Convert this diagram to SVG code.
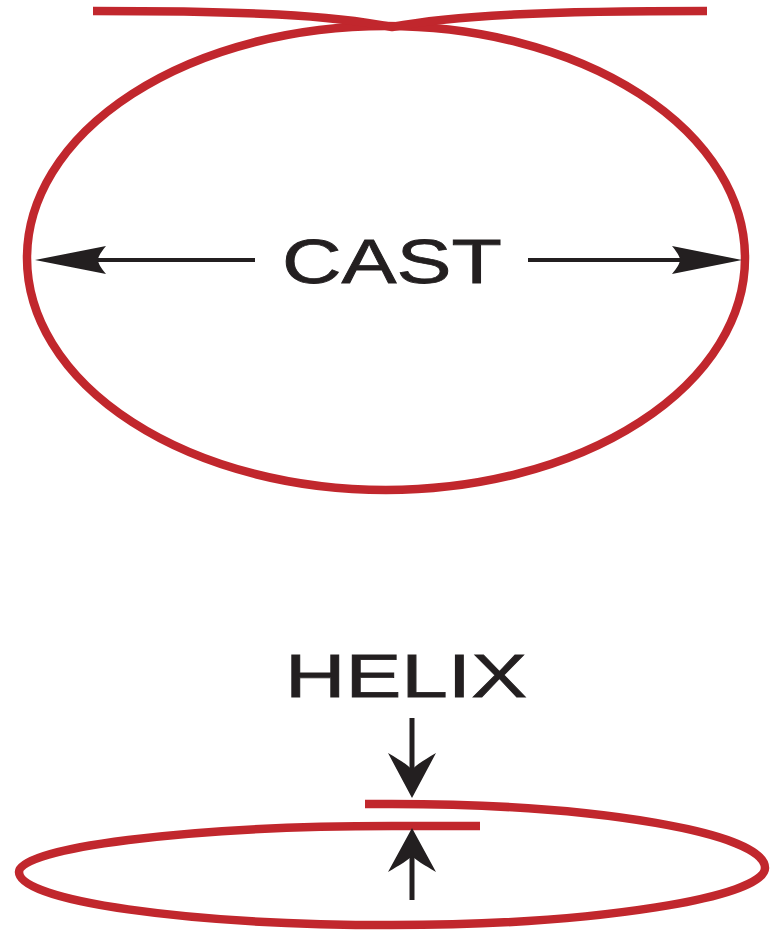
<svg xmlns="http://www.w3.org/2000/svg" width="775" height="933" viewBox="0 0 775 933">
<style>
.wire{fill:none;stroke:#c1272d;stroke-width:8.5;stroke-linecap:butt}
.shaft{stroke:#231f20;fill:none}
.head{fill:#231f20;stroke:none}
.lbl{font-family:"Liberation Sans",Arial,sans-serif;fill:#231f20}
</style>
<rect width="775" height="933" fill="#ffffff"/>
<g id="cast-loop">
<ellipse class="wire" cx="386" cy="258" rx="359" ry="232"/>
<path class="wire" d="M93,11 C250,11 330,15 392,27 C454,15 550,11 707,11"/>
</g>
<g id="helix-loop">
<path class="wire" d="M480,826 L392,826 C186,826 19,848 19,872 C19,901 186,925 392,925 C598,925 765,897 765,868 C765,833 598,804 392,804 L365,804"/>
</g>
<g id="cast-label">
<text class="lbl" x="282" y="283" font-size="63" stroke="#231f20" stroke-width="0.8" textLength="220" lengthAdjust="spacingAndGlyphs">CAST</text>
</g>
<g id="helix-label">
<text class="lbl" x="285" y="697" font-size="61" stroke="#231f20" stroke-width="0.8" textLength="242" lengthAdjust="spacingAndGlyphs">HELIX</text>
</g>
<g id="connectors">
<line class="shaft" x1="98" y1="260" x2="255" y2="260" stroke-width="4"/>
<path class="head" d="M35,260 L106,246 C101,252 98,257 98,260 C98,263 101,268 106,274 Z"/>
<line class="shaft" x1="528" y1="260" x2="682" y2="260" stroke-width="4"/>
<path class="head" d="M742,260 L672,246 C677,252 680,257 680,260 C680,263 677,268 672,274 Z"/>
<line class="shaft" x1="412" y1="718" x2="412" y2="770" stroke-width="5"/>
<path class="head" d="M412,798 L388,753 C400,760 408,765 412,770 C416,765 424,760 436,753 Z"/>
<line class="shaft" x1="412" y1="856" x2="412" y2="900" stroke-width="5"/>
<path class="head" d="M412,828 L388,872 C400,865 408,860 412,856 C416,860 424,865 436,872 Z"/>
</g>
</svg>
